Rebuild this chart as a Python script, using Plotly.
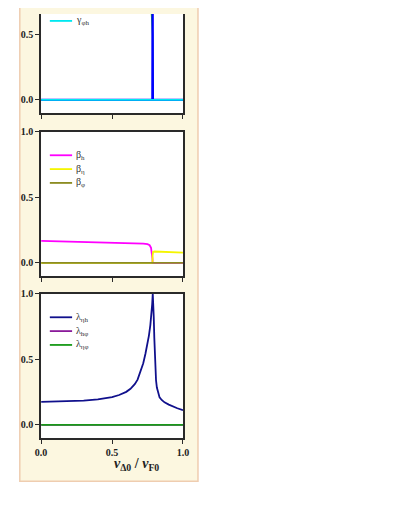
"""Three stacked panels: gamma, beta and lambda against v_D0 / v_F0."""

import plotly.graph_objects as go

# the page puts the figure 8 px in from the top-left corner, so the figure is
# sized to the window minus that margin and reference pixels are shifted by it
OFF = 8
W, H = 395 - 2 * OFF, 511 - 2 * OFF

# top panel: gamma
gamma_x = [0.0, 0.784, 0.786, 0.788, 1.0]
gamma_eta_h = [0.0, 0.0, 1.0, 0.0, 0.0]
gamma_green_x = [0.0, 0.765, 0.776, 0.786, 0.789, 1.0]
gamma_eta_phi = [1.0, 1.0, 0.71, 0.49, 0.0, 0.0]
gamma_phi_x = [0.0, 1.0]
gamma_phi_h = [0.0, 0.0]

# middle panel: beta
beta_h_x = [0.0, 0.2, 0.4, 0.6, 0.72, 0.75, 0.765, 0.775, 0.781, 0.785, 0.786, 1.0]
beta_h = [0.168, 0.163, 0.158, 0.152, 0.147, 0.143, 0.135, 0.115, 0.08, 0.03, 0.0, 0.0]
beta_eta_x = [0.0, 0.785, 0.786, 0.79, 0.8, 0.9, 1.0]
beta_eta = [0.0, 0.0, 0.06, 0.085, 0.087, 0.082, 0.078]
beta_phi_x = [0.0, 1.0]
beta_phi = [0.0, 0.0]

# bottom panel: lambda
lam_x = [0.0, 0.1, 0.2, 0.3, 0.4, 0.45, 0.5, 0.55, 0.6, 0.63, 0.66, 0.68, 0.7,
         0.72, 0.735, 0.75, 0.76, 0.77, 0.778, 0.783, 0.787, 0.79, 0.794, 0.798,
         0.802, 0.806, 0.81, 0.816, 0.824, 0.835, 0.85, 0.87, 0.9, 0.93, 0.96, 1.0]
lam_eta_h = [0.175, 0.177, 0.18, 0.185, 0.194, 0.202, 0.212, 0.228, 0.252, 0.275,
             0.31, 0.345, 0.4, 0.47, 0.54, 0.62, 0.68, 0.76, 0.84, 0.92, 1.0,
             0.95, 0.82, 0.66, 0.52, 0.41, 0.34, 0.285, 0.245, 0.21, 0.19, 0.172,
             0.155, 0.14, 0.127, 0.112]
lam_flat_x = [0.0, 1.0]
lam_h_phi = [0.0, 0.0]
lam_eta_phi = [0.0, 0.0]


def px_x(px):
    return (px - OFF) / W


def px_y(py):
    return 1 - (py - OFF) / H


panels = [
    # (top px, bottom px, y range, traces, legend rows)
    (OFF, 108.3, [-0.1, (95 - OFF) / 133], [
        (gamma_green_x, gamma_eta_phi, "#22CC22", 1.5, "γ<sub>ηφ</sub>"),
        (gamma_x, gamma_eta_h, "#0000FF", 2.2, "γ<sub>ηh</sub>"),
        (gamma_phi_x, gamma_phi_h, "#00E8F0", 1.8, "γ<sub>φh</sub>"),
    ], [-13, 1, 15]),
    (127, 273.3, [-0.1, 1.0], [
        (beta_h_x, beta_h, "#FF00FF", 1.8, "β<sub>h</sub>"),
        (beta_eta_x, beta_eta, "#F5F500", 1.8, "β<sub>η</sub>"),
        (beta_phi_x, beta_phi, "#8C8C22", 1.8, "β<sub>φ</sub>"),
    ], [151, 165, 179]),
    (291, 437.3, [-0.1, 1.0], [
        (lam_x, lam_eta_h, "#10108C", 1.8, "λ<sub>ηh</sub>"),
        (lam_flat_x, lam_h_phi, "#8A1A9A", 1.8, "λ<sub>hφ</sub>"),
        (lam_flat_x, lam_eta_phi, "#189A18", 1.8, "λ<sub>ηφ</sub>"),
    ], [315, 329, 343]),
]

X0, X1 = 36, 182.5
tick_font = dict(family="Liberation Serif", size=10, color="#222222")
tick_text = ["<b>0.0</b>", "<b>0.5</b>", "<b>1.0</b>"]

fig = go.Figure()
shapes = [
    dict(type="rect", xref="paper", yref="paper",
         x0=px_x(14), x1=px_x(198), y0=px_y(481), y1=1.05,
         fillcolor="#FCF7E0", line=dict(color="#EFCDB0", width=1.5), layer="below"),
]
annotations = []

for i, (top, bottom, yrange, traces, rows) in enumerate(panels, start=1):
    xa = "x" if i == 1 else f"x{i}"
    ya = "y" if i == 1 else f"y{i}"
    # white plot area on top of the cream panel
    shapes.append(dict(type="rect", xref=f"{xa} domain", yref=f"{ya} domain",
                       x0=0, x1=1, y0=0, y1=1, fillcolor="white",
                       line=dict(width=0), layer="below"))
    for (xs, ys, color, width, name), row in zip(traces, rows):
        fig.add_trace(go.Scatter(
            x=xs, y=ys, mode="lines", name=name, xaxis=xa, yaxis=ya,
            line=dict(color=color, width=width), showlegend=False,
        ))
        if row < OFF:
            continue  # legend row lies above the visible page
        shapes.append(dict(type="line", xref="paper", yref="paper",
                           x0=px_x(45), x1=px_x(68), y0=px_y(row), y1=px_y(row),
                           line=dict(color=color, width=width)))
        annotations.append(dict(xref="paper", yref="paper", x=px_x(70), y=px_y(row),
                                text=name, showarrow=False, xanchor="left",
                                yanchor="middle",
                                font=dict(family="Liberation Serif", size=10,
                                          color="#333333")))
    axis_common = dict(showline=True, linecolor="#2a2a2a", linewidth=1.6,
                       ticks="outside", ticklen=4, tickwidth=1.4, tickcolor="#2a2a2a",
                       showgrid=False, zeroline=False, tickfont=tick_font)
    fig.update_layout({
        f"xaxis{'' if i == 1 else i}": dict(
            axis_common, domain=[px_x(X0), px_x(X1)], range=[0, 1],
            tickvals=[0, 0.5, 1.0], ticktext=tick_text,
            showticklabels=(i == 3), mirror=(i != 1), anchor=ya,
        ),
        f"yaxis{'' if i == 1 else i}": dict(
            axis_common, domain=[px_y(bottom), min(px_y(top), 1.0)], range=yrange,
            tickvals=[0, 0.5, 1.0], ticktext=tick_text,
            mirror=True, anchor=xa,
        ),
    })

annotations.append(dict(
    xref="paper", yref="paper", x=px_x(109.5), y=px_y(464), showarrow=False,
    yanchor="middle",
    text="<b><i>v</i><sub>Δ0</sub> / <i>v</i><sub>F0</sub></b>",
    font=dict(family="Liberation Serif", size=14, color="#222222"),
))

fig.update_layout(
    width=W, height=H,
    margin=dict(l=0, r=0, t=0, b=0),
    paper_bgcolor="white",
    plot_bgcolor="white",
    shapes=shapes,
    annotations=annotations,
    showlegend=False,
)

fig.write_html("out.html")
